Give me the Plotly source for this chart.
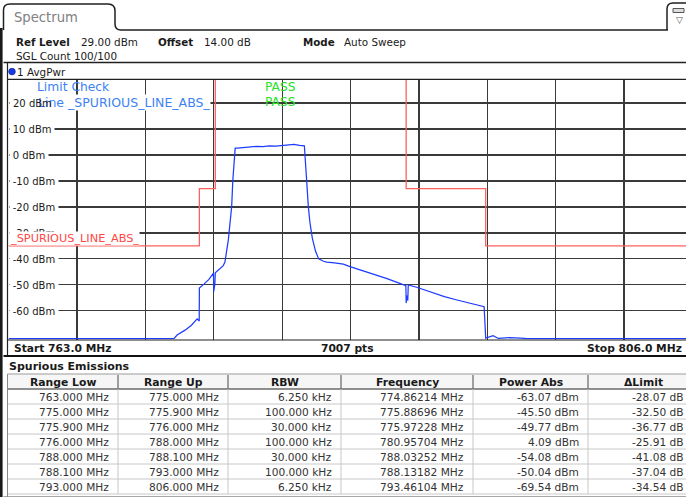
import plotly.graph_objects as go

W, H = 686, 497
FONT = "DejaVu Sans"

# ---------------- data ----------------
# blue AvgPwr trace (MHz, dBm) read from the screen
trace_freq = [763.0, 773.4, 773.6, 774.1, 774.5, 774.86, 774.99, 775.0, 775.3, 775.6,
              775.887, 775.90, 775.972, 776.0, 776.5, 776.61, 776.82, 777.03, 777.1,
              777.2, 777.25, 777.4, 777.8, 778.2, 778.6, 779.0, 779.4, 779.8, 780.2,
              780.6, 780.957, 781.3, 781.6, 781.68, 781.75, 781.85, 781.95, 782.1,
              782.3, 782.5, 782.8, 783.0, 783.5, 784.05, 784.47, 785.0, 785.5, 786.15,
              786.8, 787.6, 787.98, 788.0, 788.032, 788.1, 788.132, 788.66, 789.2,
              789.7, 790.4, 791.2, 792.0, 792.9, 793.0, 793.461, 793.8, 794.5, 795.2,
              795.6, 806.0]
trace_pwr = [-70.7, -70.7, -69.3, -67.4, -65.5, -63.07, -63.9, -51.2, -49.6, -47.9,
             -45.50, -52.6, -49.77, -45.3, -42.6, -41.1, -32.7, -19.9, -10.0,
             -1.0, 2.6, 2.6, 2.9, 3.0, 3.3, 3.2, 3.5, 3.4, 3.6,
             3.8, 4.09, 3.7, 3.5, -4.0, -13.0, -20.0, -26.0, -32.0,
             -37.0, -40.0, -40.9, -41.2, -41.5, -42.0, -43.0, -44.0, -45.0, -46.2,
             -47.6, -49.4, -50.3, -57.0, -54.08, -56.0, -50.04, -50.9, -52.0,
             -53.3, -54.5, -55.8, -57.0, -58.4, -70.5, -69.54, -70.6, -70.3, -70.5,
             -70.7, -70.7]

# red limit line SPURIOUS_LINE_ABS_
limit_freq = [763.0, 775.0, 775.0, 776.0, 776.0, 788.0, 788.0, 793.0, 793.0, 806.0]
limit_pwr = [-35, -35, -13, -13, 30, 30, -13, -13, -35, -35]

y_tick_vals = [20, 10, 0, -10, -20, -30, -40, -50, -60]
y_tick_text = ["20 dBm", "10 dBm", "0 dBm", "-10 dBm", "-20 dBm", "-30 dBm",
               "-40 dBm", "-50 dBm", "-60 dBm"]

start_mhz, stop_mhz, ref_level, db_range = 763.0, 806.0, 29.0, 100.0

# spurious emissions table
table_headers = ["Range Low", "Range Up", "RBW", "Frequency", "Power Abs", "ΔLimit"]
range_low = ["763.000 MHz", "775.000 MHz", "775.900 MHz", "776.000 MHz",
             "788.000 MHz", "788.100 MHz", "793.000 MHz"]
range_up = ["775.000 MHz", "775.900 MHz", "776.000 MHz", "788.000 MHz",
            "788.100 MHz", "793.000 MHz", "806.000 MHz"]
rbw = ["6.250 kHz", "100.000 kHz", "30.000 kHz", "100.000 kHz",
       "30.000 kHz", "100.000 kHz", "6.250 kHz"]
peak_freq = ["774.86214 MHz", "775.88696 MHz", "775.97228 MHz", "780.95704 MHz",
             "788.03252 MHz", "788.13182 MHz", "793.46104 MHz"]
power_abs = ["-63.07 dBm", "-45.50 dBm", "-49.77 dBm", "4.09 dBm",
             "-54.08 dBm", "-50.04 dBm", "-69.54 dBm"]
delta_limit = ["-28.07 dB", "-32.50 dB", "-36.77 dB", "-25.91 dB",
               "-41.08 dB", "-37.04 dB", "-34.54 dB"]

# ---------------- helpers (pixel -> paper) ----------------
def X(px):
    return px / W

def Y(py):
    return 1 - py / H

PLOT_L, PLOT_R_FULL, PLOT_T, PLOT_B = 8.5, 692.5, 79.5, 339.5
px_per_mhz = (PLOT_R_FULL - PLOT_L) / (stop_mhz - start_mhz)
x_vis_max = start_mhz + (W - PLOT_L) / px_per_mhz

shapes = []
annotations = []

def line(x0, y0, x1, y1, color="#202020", width=1.0):
    shapes.append(dict(type="line", xref="paper", yref="paper",
                       x0=X(x0), y0=Y(y0), x1=X(x1), y1=Y(y1),
                       line=dict(color=color, width=width), layer="above"))

def rect(x0, y0, x1, y1, fill=None, color="#202020", width=1.0, layer="above"):
    d = dict(type="rect", xref="paper", yref="paper",
             x0=X(x0), y0=Y(y0), x1=X(x1), y1=Y(y1),
             line=dict(color=color, width=width), layer=layer)
    if fill:
        d["fillcolor"] = fill
    if width == 0:
        d["line"] = dict(width=0)
    shapes.append(d)

def text(x, y, s, size=10.4, color="#1a1a1a", bold=False, anchor="left",
         bg=None, pad=0):
    if bold:
        s = "<b>" + s + "</b>"
    a = dict(xref="paper", yref="paper", x=X(x), y=Y(y), text=s,
             showarrow=False, xanchor=anchor, yanchor="middle",
             font=dict(family=FONT, size=size, color=color), borderpad=pad)
    if bg:
        a["bgcolor"] = bg
    annotations.append(a)

# ---------------- figure ----------------
fig = go.Figure()
fig.add_trace(go.Scatter(x=limit_freq, y=limit_pwr, mode="lines",
                         line=dict(color="rgb(255,95,95)", width=1.3),
                         hoverinfo="skip", showlegend=False))
fig.add_trace(go.Scatter(x=trace_freq, y=trace_pwr, mode="lines",
                         line=dict(color="rgb(30,60,255)", width=1.25),
                         hoverinfo="skip", showlegend=False))

# ---- top header ----
rect(0, 28, 2.6, H, fill="#1a1a1a", width=0)
shapes.append(dict(type="path", xref="paper", yref="paper",
                   path=f"M {X(3.5)},{Y(30)} L {X(3.5)},{Y(10)} Q {X(3.5)},{Y(4)} {X(10)},{Y(4)} "
                        f"L {X(108)},{Y(4)} Q {X(115)},{Y(4)} {X(115)},{Y(11)} "
                        f"L {X(115)},{Y(24)} Q {X(115)},{Y(30)} {X(121)},{Y(30)} L {X(668)},{Y(30)}",
                   line=dict(color="#202020", width=1.5), layer="above"))
shapes.append(dict(type="path", xref="paper", yref="paper",
                   path=f"M {X(667)},{Y(30)} L {X(667)},{Y(9)} Q {X(667)},{Y(3)} {X(673)},{Y(3)} "
                        f"L {X(690)},{Y(3)}",
                   line=dict(color="#202020", width=1.5), layer="above"))
line(686, 30, 700, 30, width=1.5)
rect(673, 8.5, 684, 12.5, color="#555", width=1, fill="#dddddd")
text(679, 20, "▽", size=9, color="#555", anchor="center")
text(13, 17, "Spectrum", size=13.2, color="#808080")

text(15, 41.5, "Ref Level", bold=True, size=10.3)
text(80, 41.5, "29.00 dBm", size=10.4)
text(157, 41.5, "Offset", bold=True, size=10.3)
text(203, 41.5, "14.00 dB", size=10.4)
text(302, 41.5, "Mode", bold=True, size=10.3)
text(343, 41.5, "Auto Sweep", size=10.4)
text(15, 55.5, "SGL Count 100/100", size=10.4)

# diagram frame
line(3.5, 62.5, 700, 62.5, width=1.5)
line(7.5, 62.5, 7.5, 356, width=1.2)
line(7.5, 79.3, 700, 79.3, width=1.2)
line(7.5, 340, 700, 340, width=1.2)
line(3.5, 356, 700, 356, color="#111", width=2.2)
shapes.append(dict(type="circle", xref="paper", yref="paper",
                   x0=X(8.7), y0=Y(68.3), x1=X(15.3), y1=Y(74.9),
                   fillcolor="rgb(20,60,230)", line=dict(color="rgb(20,40,160)", width=0.8),
                   layer="above"))
text(16, 71.6, "1 AvgPwr", size=10.4)

# y labels (inside diagram, white background hides grid up to the left edge)
for v, s in zip(y_tick_vals, y_tick_text):
    py = PLOT_T + (ref_level - v) / db_range * (PLOT_B - PLOT_T)
    col = "white" if v == 20 else "#1a1a1a"
    text(8.8, py, s, size=10.0, color=col, bg="white", pad=2.7)

BLUE_TXT = "rgb(60,130,245)"
GREEN_TXT = "rgb(40,225,40)"
text(36, 87, "Limit Check", size=12.3, color=BLUE_TXT)
text(37, 102.5, "Line _SPURIOUS_LINE_ABS_", size=12.5, color=BLUE_TXT, bg="white")
text(11.5, 103.3, "20 dBm", size=10.0, color="#1a1a1a")
text(264, 87, "PASS", size=12.2, color=GREEN_TXT)
text(264, 102.5, "PASS", size=12.2, color=GREEN_TXT)
text(8.5, 238.3, "_SPURIOUS_LINE_ABS_", size=11.3, color="rgb(255,70,70)", bg="white")

# bottom bar
text(12.5, 348, "Start 763.0 MHz", bold=True, size=10.7)
text(347, 348, "7007 pts", bold=True, size=10.7, anchor="center")
text(683, 348, "Stop 806.0 MHz", bold=True, size=10.7, anchor="right")

# ---- table ----
text(7.5, 366.5, "Spurious Emissions", bold=True, size=11.0)
col_edges = [7.5, 118, 228, 341, 473, 588, 698]
hdr_top, hdr_bot = 374, 389
row_h = 15.0
n_rows = len(range_low)
tbl_bot = hdr_bot + n_rows * row_h
rect(7.5, hdr_top, 700, hdr_bot, fill="#f6f6f6", color="#9a9a9a", width=1, layer="below")
line(7.5, hdr_bot, 700, hdr_bot, color="#555", width=1)
for i in range(1, n_rows + 1):
    line(7.5, hdr_bot + i * row_h, 700, hdr_bot + i * row_h, color="#c8c8c8", width=1)
for xe in col_edges[1:-1]:
    line(xe, hdr_top + 1, xe, hdr_bot, color="#666", width=1.2)
    line(xe, hdr_bot, xe, tbl_bot, color="#c8c8c8", width=1)
line(7.5, hdr_top, 7.5, tbl_bot + 3, color="#888", width=1)
line(3.5, tbl_bot + 3, 700, tbl_bot + 3, color="#888", width=1.5)

for j, h in enumerate(table_headers):
    cx = (col_edges[j] + col_edges[j + 1]) / 2
    text(cx, (hdr_top + hdr_bot) / 2 + 0.5, h, bold=True, size=10.8, anchor="center")

columns = [range_low, range_up, rbw, peak_freq, power_abs, delta_limit]
for j, col in enumerate(columns):
    right = col_edges[j + 1] - (13 if j == 5 else 8)
    for i, s in enumerate(col):
        cy = hdr_bot + (i + 0.5) * row_h
        text(right, cy, s, size=10.6, color="#333333", anchor="right")

fig.update_layout(
    width=W, height=H,
    margin=dict(l=0, r=0, t=0, b=0),
    paper_bgcolor="white", plot_bgcolor="white",
    showlegend=False,
    hovermode=False,
    xaxis=dict(domain=[X(PLOT_L), 1.0], range=[start_mhz, x_vis_max],
               tickmode="linear", tick0=start_mhz, dtick=(stop_mhz - start_mhz) / 10,
               showgrid=True, gridcolor="#3a3a3a", gridwidth=1.2,
               showticklabels=False, zeroline=False, showline=False, ticks=""),
    yaxis=dict(domain=[Y(PLOT_B), Y(PLOT_T)],
               range=[ref_level - db_range, ref_level],
               tickmode="array", tickvals=y_tick_vals,
               showgrid=True, gridcolor="#3a3a3a", gridwidth=1.2,
               showticklabels=False, zeroline=False, showline=False, ticks=""),
    shapes=shapes,
    annotations=annotations,
)

fig.write_html("out.html", config={"displayModeBar": False, "staticPlot": True},
               post_script="document.body.style.margin='0px';document.body.style.overflow='hidden';")
